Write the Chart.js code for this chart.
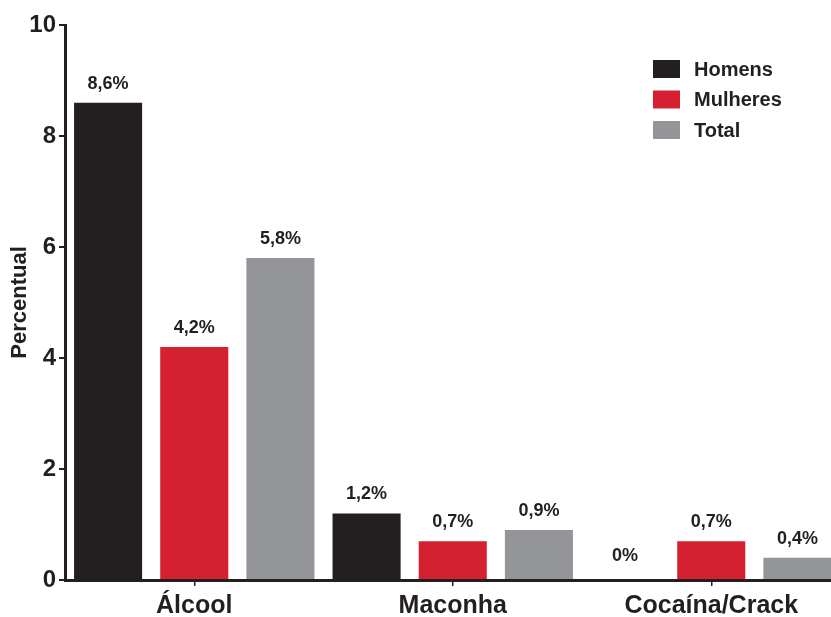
<!DOCTYPE html>
<html>
<head>
<meta charset="utf-8">
<script src="https://cdn.jsdelivr.net/npm/chart.js@4.4.0/dist/chart.umd.min.js"></script>
<style>
  html, body { margin: 0; padding: 0; background: #fff; overflow: hidden; }
  #wrap { width: 842px; height: 617px; }
</style>
</head>
<body>
<div id="wrap"><canvas id="grafico" width="842" height="617"></canvas></div>
<script>
// categorie e valori (%)
const categorias = ["Álcool", "Maconha", "Cocaína/Crack"];
const homens = [8.6, 1.2, 0];
const mulheres = [4.2, 0.7, 0.7];
const total = [5.8, 0.9, 0.4];
const ticksY = [0, 2, 4, 6, 8, 10];

const PRETO = '#231f20';
const VERMELHO = '#d42030';
const CINZA = '#939598';
const FONTE = '"Liberation Sans", Arial, Helvetica, sans-serif';

// etichette sopra le barre: "8,6%"
const etichette = {
  id: 'etichette',
  afterDatasetsDraw(chart) {
    const ctx = chart.ctx;
    ctx.save();
    ctx.font = 'bold 18px ' + FONTE;
    ctx.fillStyle = PRETO;
    ctx.textAlign = 'center';
    ctx.textBaseline = 'alphabetic';
    chart.data.datasets.forEach((ds, i) => {
      chart.getDatasetMeta(i).data.forEach((bar, j) => {
        const v = ds.data[j];
        const txt = String(v).replace('.', ',') + '%';
        const y = v === 0 ? bar.y - 19 : bar.y - 14;
        ctx.fillText(txt, bar.x, y);
      });
    });
    ctx.restore();
  }
};

// legenda disegnata a mano in alto a destra
const legenda = {
  id: 'legenda',
  afterDraw(chart) {
    const ctx = chart.ctx;
    ctx.save();
    ctx.font = 'bold 20px ' + FONTE;
    ctx.textBaseline = 'middle';
    chart.data.datasets.forEach((ds, i) => {
      const y = 69 + i * 30.5;
      ctx.fillStyle = ds.backgroundColor;
      ctx.fillRect(653, y - 9, 27, 18);
      ctx.fillStyle = PRETO;
      ctx.fillText(ds.label, 694, y + 1);
    });
    ctx.restore();
  }
};

const dataChart = {
  labels: categorias,
  datasets: [
    { label: 'Homens', data: homens, backgroundColor: PRETO },
    { label: 'Mulheres', data: mulheres, backgroundColor: VERMELHO },
    { label: 'Total', data: total, backgroundColor: CINZA }
  ]
};

const config = {
  type: 'bar',
  data: dataChart,
  options: {
    responsive: false,
    animation: false,
    layout: { padding: { top: 25, right: 1.5, left: 1, bottom: 0 } },
    datasets: {
      bar: { categoryPercentage: 1.0, barPercentage: 0.79 }
    },
    plugins: {
      legend: { display: false },
      tooltip: { enabled: false }
    },
    scales: {
      x: {
        border: { display: true, color: PRETO, width: 3 },
        grid: { display: true, drawOnChartArea: false, drawTicks: true, offset: false, tickLength: 6, lineWidth: 1.5, color: PRETO },
        ticks: { color: PRETO, padding: 5, font: { family: FONTE, size: 25, weight: 'bold' } },
        afterFit(scale) { scale.height = 37; }
      },
      y: {
        min: 0,
        max: 10,
        afterBuildTicks(scale) { scale.ticks = ticksY.map(v => ({ value: v })); },
        border: { display: true, color: PRETO, width: 3 },
        grid: { display: true, drawOnChartArea: false, drawTicks: true, tickLength: 6, lineWidth: 2, color: PRETO },
        ticks: { color: PRETO, padding: 3, font: { family: FONTE, size: 24, weight: 'bold' } },
        title: { display: true, text: 'Percentual', color: PRETO, padding: { top: 6, bottom: 0 }, font: { family: FONTE, size: 22, weight: 'bold' } },
        afterFit(scale) { scale.width = 64; }
      }
    }
  },
  plugins: [etichette, legenda]
};

const chart = new Chart(document.getElementById('grafico'), config);
</script>
</body>
</html>
